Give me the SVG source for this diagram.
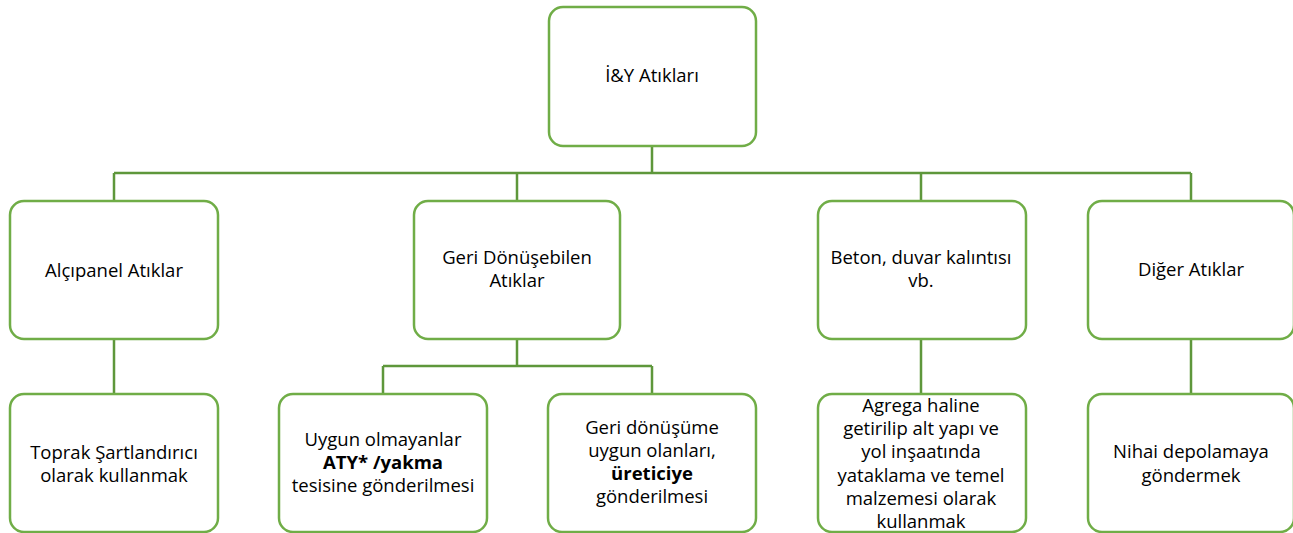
<svg xmlns="http://www.w3.org/2000/svg" width="1293" height="533" viewBox="0 0 1293 533">
<style>
.box{fill:#fff;stroke:#70AD47;stroke-width:2.5}
.c{fill:none;stroke:#5E973B;stroke-width:2.5}
text{font-family:"Open Sans","Liberation Sans",Arial,sans-serif;font-size:18.5px;fill:#000;text-anchor:middle}
.b{font-weight:bold}
</style>
<rect width="1293" height="533" fill="#fff"/>
<g id="connectors">
<path class="c" d="M652 146V173M114 173H1191M114 173V201M517 173V201M921 173V201M1191 173V201"/>
<path class="c" d="M114 339V394M921 339V394M1191 339V394"/>
<path class="c" d="M517 339V366M383 366H652M383 366V394M652 366V394"/>
</g>
<g id="n0"><rect class="box" x="549" y="7" width="207" height="139" rx="14"/><text x="652" y="82">İ&amp;Y Atıkları</text></g>
<g id="n1"><rect class="box" x="10" y="201" width="208" height="138" rx="14"/><text x="114" y="277">Alçıpanel Atıklar</text></g>
<g id="n2"><rect class="box" x="414" y="201" width="206" height="138" rx="14"/><text x="517" y="264">Geri Dönüşebilen</text><text x="517" y="287">Atıklar</text></g>
<g id="n3"><rect class="box" x="818" y="201" width="208" height="138" rx="14"/><text x="921" y="264">Beton, duvar kalıntısı</text><text x="921" y="287">vb.</text></g>
<g id="n4"><rect class="box" x="1088" y="201" width="206" height="138" rx="14"/><text x="1191" y="276">Diğer Atıklar</text></g>
<g id="n5"><rect class="box" x="10" y="394" width="208" height="138" rx="14"/><text x="114" y="459">Toprak Şartlandırıcı</text><text x="114" y="482">olarak kullanmak</text></g>
<g id="n6"><rect class="box" x="279" y="394" width="208" height="138" rx="14"/><text x="383" y="446">Uygun olmayanlar</text><text class="b" x="383" y="469">ATY* /yakma</text><text x="383" y="492">tesisine gönderilmesi</text></g>
<g id="n7"><rect class="box" x="548" y="394" width="208" height="138" rx="14"/><text x="652" y="434">Geri dönüşüme</text><text x="652" y="457">uygun olanları,</text><text class="b" x="652" y="480">üreticiye</text><text x="652" y="503">gönderilmesi</text></g>
<g id="n8"><rect class="box" x="818" y="394" width="208" height="138" rx="14"/><text x="921" y="412">Agrega haline</text><text x="921" y="435">getirilip alt yapı ve</text><text x="921" y="458">yol inşaatında</text><text x="921" y="482">yataklama ve temel</text><text x="921" y="505">malzemesi olarak</text><text x="921" y="528">kullanmak</text></g>
<g id="n9"><rect class="box" x="1088" y="394" width="206" height="138" rx="14"/><text x="1191" y="458">Nihai depolamaya</text><text x="1191" y="482">göndermek</text></g>
</svg>
